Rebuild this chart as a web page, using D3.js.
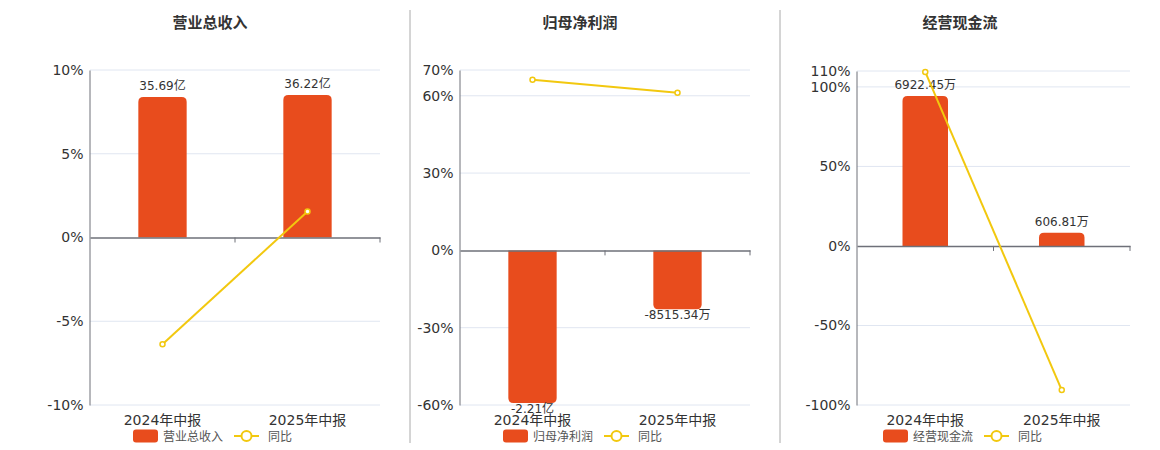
<!DOCTYPE html>
<html><head><meta charset="utf-8">
<script src="https://cdn.jsdelivr.net/npm/d3@7/dist/d3.min.js"></script>
<style>
body{margin:0;background:#fff;}
text{font-family:"DejaVu Sans","Noto Sans CJK SC",sans-serif;}
</style></head>
<body><svg id="c" width="1160" height="450"></svg>
<script>
const categories = ["2024年中报", "2025年中报"];
const titles = ["营业总收入", "归母净利润", "经营现金流"];
const yoyName = "同比";

const revenueValues = [35.69, 36.22];          // 亿
const revenueLabels = ["35.69亿", "36.22亿"];
const revenueYoY = [-6.37, 1.55];
const revenueTicks = [-10, -5, 0, 5, 10];

const profitValues = [-22100, -8515.34];       // 万
const profitLabels = ["-2.21亿", "-8515.34万"];
const profitYoY = [66.2, 61.2];
const profitTicks = [-60, -30, 0, 30, 60, 70];

const cashValues = [6922.45, 606.81];          // 万
const cashLabels = ["6922.45万", "606.81万"];
const cashYoY = [109.4, -90.6];
const cashTicks = [-100, -50, 0, 50, 100, 110];

const panels = [
  {title: titles[0], bars: revenueValues, labels: revenueLabels, yoy: revenueYoY, ticks: revenueTicks,
   left: 90, right: 380, top: 70, bottom: 405, center: 210, unitPerPct: 4.255},
  {title: titles[1], bars: profitValues, labels: profitLabels, yoy: profitYoY, ticks: profitTicks,
   left: 460, right: 750, top: 70, bottom: 405, center: 580, unitPerPct: 373},
  {title: titles[2], bars: cashValues, labels: cashLabels, yoy: cashYoY, ticks: cashTicks,
   left: 857, right: 1130, top: 71, bottom: 405, center: 960, unitPerPct: 73.4}
];

const barColor = "#e84c1d", lineColor = "#f2c80f", axisColor = "#6e7079", gridColor = "#e0e6f1";
const svg = d3.select("#c");

// separators
[410, 780].forEach(x => svg.append("line").attr("x1", x).attr("x2", x).attr("y1", 10).attr("y2", 443)
  .attr("stroke", "#aaa").attr("stroke-width", 1));

function barPath(x0, w, y0, y1, r) {
  const h = Math.abs(y1 - y0);
  r = Math.min(r, h / 2, w / 2);
  if (y1 < y0) { // upward
    return `M${x0},${y0}V${y1 + r}Q${x0},${y1} ${x0 + r},${y1}H${x0 + w - r}Q${x0 + w},${y1} ${x0 + w},${y1 + r}V${y0}Z`;
  } else {
    return `M${x0},${y0}V${y1 - r}Q${x0},${y1} ${x0 + r},${y1}H${x0 + w - r}Q${x0 + w},${y1} ${x0 + w},${y1 - r}V${y0}Z`;
  }
}

panels.forEach(p => {
  const g = svg.append("g");
  const dMin = d3.min(p.ticks), dMax = d3.max(p.ticks);
  const y = d3.scaleLinear().domain([dMin, dMax]).range([p.bottom, p.top]);
  const yBar = d3.scaleLinear().domain([dMin * p.unitPerPct, dMax * p.unitPerPct]).range([p.bottom, p.top]);
  const x = d3.scaleBand().domain(categories).range([p.left, p.right]);
  const bw = x.bandwidth() / 3;

  g.append("text").attr("x", p.center).attr("y", 28).attr("text-anchor", "middle")
    .attr("font-size", 15).attr("font-weight", "bold").attr("fill", "#333").text(p.title);

  // grid
  g.selectAll(".grid").data(p.ticks.filter(t => t !== 0)).enter().append("line")
    .attr("x1", p.left).attr("x2", p.right).attr("y1", d => y(d)).attr("y2", d => y(d))
    .attr("stroke", gridColor).attr("stroke-width", 1);

  // y axis
  const ya = g.append("g").attr("transform", `translate(${p.left - 0.5},0)`)
    .call(d3.axisLeft(y).tickValues(p.ticks).tickFormat(d => d + "%").tickSize(0).tickPadding(6));
  ya.select(".domain").attr("stroke", axisColor);
  ya.selectAll("text").attr("font-size", 14).attr("fill", "#333").attr("font-family", "DejaVu Sans, sans-serif");

  // bars
  g.selectAll(".bar").data(p.bars).enter().append("path")
    .attr("d", (d, i) => barPath(x(categories[i]) + x.bandwidth() / 2 - bw / 2, bw, yBar(0), yBar(d), 5))
    .attr("fill", barColor);

  // bar labels
  g.selectAll(".bl").data(p.bars).enter().append("text")
    .attr("x", (d, i) => x(categories[i]) + x.bandwidth() / 2)
    .attr("y", d => d >= 0 ? yBar(d) - 7 : yBar(d) + 10)
    .attr("text-anchor", "middle").attr("font-size", 12).attr("fill", "#333")
    .text((d, i) => p.labels[i]);

  // x axis at zero
  const xa = g.append("g").attr("transform", `translate(0,${y(0)})`)
    .call(d3.axisBottom(x).tickSize(0).tickFormat(""));
  xa.select(".domain").attr("stroke", axisColor).attr("stroke-width", 1.5);
  [p.left + x.bandwidth(), p.right].forEach(tx => g.append("line").attr("x1", tx).attr("x2", tx)
    .attr("y1", y(0)).attr("y2", y(0) + 5).attr("stroke", axisColor));

  // category labels
  g.selectAll(".cl").data(categories).enter().append("text")
    .attr("x", d => x(d) + x.bandwidth() / 2).attr("y", 425).attr("text-anchor", "middle")
    .attr("font-size", 14).attr("fill", "#333").text(d => d);

  // line
  const line = d3.line().x((d, i) => x(categories[i]) + x.bandwidth() / 2).y(d => y(d));
  g.append("path").datum(p.yoy).attr("d", line).attr("fill", "none").attr("stroke", lineColor).attr("stroke-width", 2);
  g.selectAll(".pt").data(p.yoy).enter().append("circle")
    .attr("cx", (d, i) => x(categories[i]) + x.bandwidth() / 2).attr("cy", d => y(d)).attr("r", 2.5)
    .attr("fill", "#fff").attr("stroke", lineColor).attr("stroke-width", 1.5);

  // legend
  const lx = p.center - 77, ly = 436;
  g.append("rect").attr("x", lx).attr("y", ly - 6.5).attr("width", 25).attr("height", 13).attr("rx", 3).attr("fill", barColor);
  g.append("text").attr("x", lx + 30).attr("y", ly + 4.5).attr("font-size", 12).attr("fill", "#555").text(p.title);
  g.append("line").attr("x1", lx + 101).attr("x2", lx + 126).attr("y1", ly).attr("y2", ly).attr("stroke", lineColor).attr("stroke-width", 2);
  g.append("circle").attr("cx", lx + 113.5).attr("cy", ly).attr("r", 5).attr("fill", "#fff").attr("stroke", lineColor).attr("stroke-width", 2);
  g.append("text").attr("x", lx + 135).attr("y", ly + 4.5).attr("font-size", 12).attr("fill", "#555").text(yoyName);
});
</script></body></html>
